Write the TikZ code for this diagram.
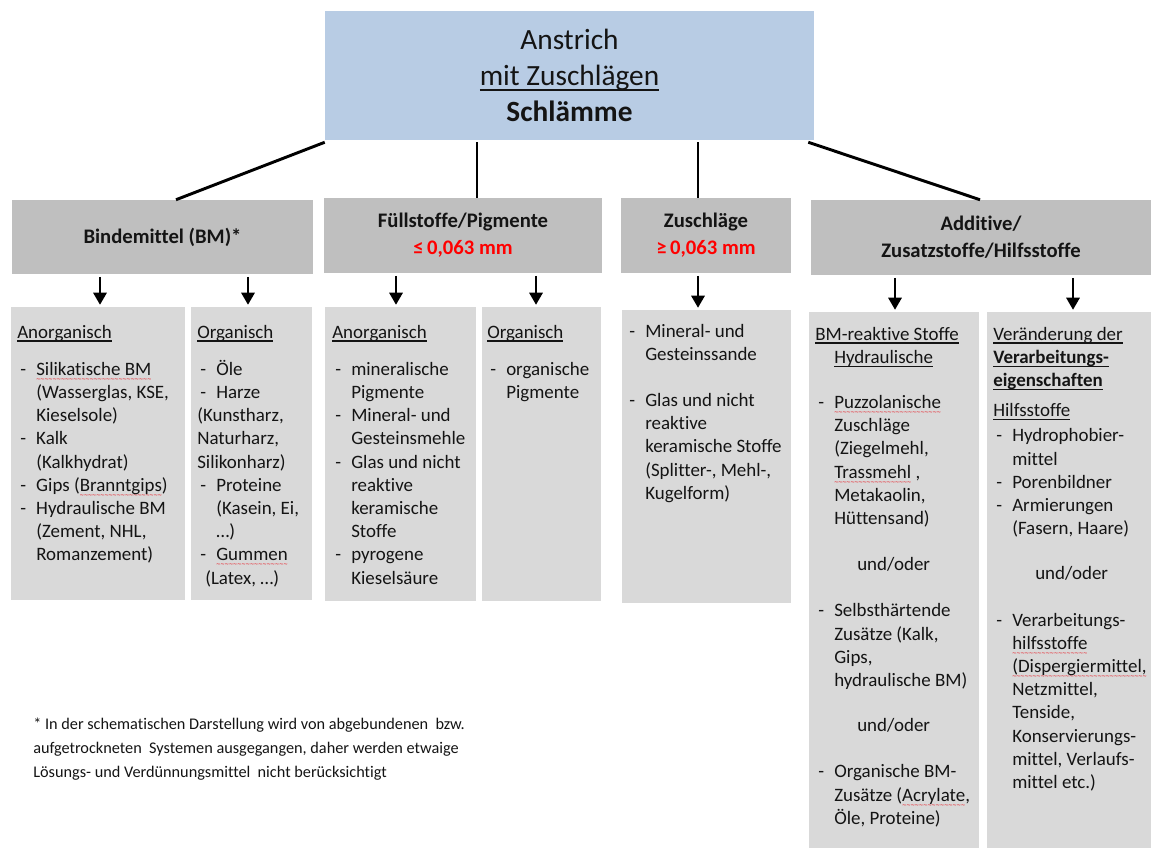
\documentclass[tikz,border=0pt]{standalone}
\usepackage{fontspec}
\setmainfont[Ligatures={NoCommon}]{Carlito}
\newfontfamily\wavefont{DejaVu Sans Mono}
\usetikzlibrary{arrows.meta,calc}
\definecolor{topblue}{HTML}{B8CCE4}
\definecolor{hgray}{HTML}{BFBFBF}
\definecolor{lgray}{HTML}{D9D9D9}
\definecolor{txt}{HTML}{141414}
\definecolor{wavered}{HTML}{E8202A}
\newdimen\px \px=0.75pt
\newcommand\itm[1]{\makebox[19\px][l]{\hspace*{3\px}-}#1}
\newcommand\cnt[1]{\hspace*{19\px}#1}
\newcommand\ul[1]{\setbox0\hbox{#1}\leavevmode\rlap{\rule[-0.2em]{\wd0}{0.07em}}\box0}
\newcommand\rw[1]{\setbox0\hbox{#1}\leavevmode\rlap{\raisebox{-4.6pt}[0pt][0pt]{\hbox to\wd0{\textcolor{wavered}{\wavefont\fontsize{5pt}{5pt}\selectfont\xleaders\hbox{\char"7E}\hfill}}}}\box0}
\tikzset{
  topbox/.style={fill=topblue, inner sep=0pt, align=center, text=txt,
    font=\fontsize{22pt}{27pt}\selectfont},
  headbox/.style={fill=hgray, inner sep=0pt, align=center, text=txt,
    font=\bfseries\fontsize{15.5pt}{20.25pt}\selectfont},
  lowbox/.style={fill=lgray, inner sep=0pt},
  body/.style={inner sep=0pt, anchor=base west, text=txt,
    font=\fontsize{14.2pt}{17.4pt}\selectfont},
  foot/.style={inner sep=0pt, anchor=base west, text=txt,
    font=\fontsize{12.2pt}{18.2pt}\selectfont},
  conn/.style={line width=2.2pt, draw=black},
  arr/.style={line width=1.5pt, draw=black, -{Triangle[width=10pt,length=9pt]},
    shorten <=2pt, shorten >=1.5pt},
}
\begin{document}
\begin{tikzpicture}[x=0.75pt, y=-0.75pt]
\useasboundingbox (0,0) rectangle (1151,848);

% top box
\node[topbox, minimum width=489\px, minimum height=129\px] (top) at (569.5,75.5)
  {Anstrich\\\ul{mit Zuschlägen}\\\textbf{Schlämme}};

% header boxes
\node[headbox, minimum width=301\px, minimum height=74\px] (H1) at (162.5,237) {Bindemittel (BM)*};
\node[headbox, minimum width=278\px, minimum height=75\px] (H2) at (463,235.5)
  {Füllstoffe/Pigmente\\\textcolor{red}{≤\,0,063 mm}};
\node[headbox, minimum width=170\px, minimum height=75\px] (H3) at (706,235.5)
  {Zuschläge\\\textcolor{red}{≥\,0,063 mm}};
\node[headbox, minimum width=340\px, minimum height=75\px] (H4) at (981,237.5)
  {Additive/\\Zusatzstoffe/Hilfsstoffe};

% lower boxes
\node[lowbox, minimum width=174\px, minimum height=293\px] (L1) at (98,453.5) {};
\node[lowbox, minimum width=121\px, minimum height=293\px] (L2) at (251.5,453.5) {};
\node[lowbox, minimum width=151\px, minimum height=294\px] (L3) at (400.5,454) {};
\node[lowbox, minimum width=119\px, minimum height=294\px] (L4) at (541.5,454) {};
\node[lowbox, minimum width=169\px, minimum height=293\px] (L5) at (706.5,456.5) {};
\node[lowbox, minimum width=170\px, minimum height=536\px] (L6) at (894,580) {};
\node[lowbox, minimum width=164\px, minimum height=536\px] (L7) at (1069,580) {};

% connectors from top box
\draw[conn] ($(top.south west)+(0,2)$) -- ($(H1.north)+(13.5,0)$);
\draw[conn] ($(H2.north |- top.south)+(14,2)$) -- ($(H2.north)+(14,0)$);
\draw[conn] ($(H3.north |- top.south)+(-8,2)$) -- ($(H3.north)+(-8,0)$);
\draw[conn] ($(top.south east)+(-6,2)$) -- ($(H4.north)+(-1,0)$);

% arrows
\foreach \h/\l/\x in {H1/L1/100, H1/L2/248, H2/L3/396, H2/L4/536, H3/L5/698, H4/L6/895, H4/L7/1073}{
  \coordinate (a\l) at (\x,0);
  \draw[arr] (\h.south -| a\l) -- (\l.north -| a\l);
}

% contents
\node[body] (t1) at (17,338) {\parbox[t]{170\px}{%
\ul{Anorganisch}\\[14\px]
\itm{\rw{Silikatische BM}}\\
\cnt{(Wasserglas, KSE,}\\
\cnt{Kieselsole)}\\
\itm{Kalk}\\
\cnt{(Kalkhydrat)}\\
\itm{Gips (\rw{Branntgips})}\\
\itm{Hydraulische BM}\\
\cnt{(Zement, NHL,}\\
\cnt{Romanzement)}}};

\node[body] (t2) at (197,338) {\parbox[t]{118\px}{%
\ul{Organisch}\\[14\px]
\itm{Öle}\\
\itm{Harze}\\
(Kunstharz,\\
Naturharz,\\
Silikonharz)\\
\itm{Proteine}\\
\cnt{(Kasein, Ei,}\\
\cnt{…)}\\
\itm{\rw{Gummen}}\\
\hspace*{8\px}(Latex, …)}};

\node[body] (t3) at (332,338) {\parbox[t]{148\px}{%
\ul{Anorganisch}\\[14\px]
\itm{mineralische}\\
\cnt{Pigmente}\\
\itm{Mineral- und}\\
\cnt{Gesteinsmehle}\\
\itm{Glas und nicht}\\
\cnt{reaktive}\\
\cnt{keramische}\\
\cnt{Stoffe}\\
\itm{pyrogene}\\
\cnt{Kieselsäure}}};

\node[body] (t4) at (487,338) {\parbox[t]{115\px}{%
\ul{Organisch}\\[14\px]
\itm{organische}\\
\cnt{Pigmente}}};

\node[body] (t5) at (626,337) {\parbox[t]{165\px}{%
\itm{Mineral- und}\\
\cnt{Gesteinssande}\\[23\px]
\itm{Glas und nicht}\\
\cnt{reaktive}\\
\cnt{keramische Stoffe}\\
\cnt{(Splitter-, Mehl-,}\\
\cnt{Kugelform)}}};

\node[body] (t6) at (815,340) {\parbox[t]{165\px}{%
\ul{BM-reaktive Stoffe}\\
\cnt{\ul{Hydraulische}}\\[22\px]
\itm{\rw{Puzzolanische}}\\
\cnt{Zuschläge}\\
\cnt{(Ziegelmehl,}\\
\cnt{\rw{Trassmehl}\ ,}\\
\cnt{Metakaolin,}\\
\cnt{Hüttensand)}\\[23\px]
\hspace*{42\px}und/oder\\[23\px]
\itm{Selbsthärtende}\\
\cnt{Zusätze (Kalk,}\\
\cnt{Gips,}\\
\cnt{hydraulische BM)}\\[22\px]
\hspace*{42\px}und/oder\\[23\px]
\itm{Organische BM-}\\
\cnt{Zusätze (\rw{Acrylate},}\\
\cnt{Öle, Proteine)}}};

\node[body] (t7) at (993,340) {\parbox[t]{160\px}{%
\ul{Veränderung der}\\
\textbf{\ul{Verarbeitungs-}}\\
\textbf{\ul{eigenschaften}}\\[7\px]
\ul{Hilfsstoffe}\\[2\px]
\itm{Hydrophobier-}\\
\cnt{mittel}\\
\itm{Porenbildner}\\
\itm{Armierungen}\\
\cnt{(Fasern, Haare)}\\[22\px]
\hspace*{42\px}und/oder\\[23\px]
\itm{Verarbeitungs-}\\
\cnt{\rw{hilfsstoffe}}\\
\cnt{\rw{(Dispergiermittel,}}\\
\cnt{Netzmittel,}\\
\cnt{Tenside,}\\
\cnt{Konservierungs-}\\
\cnt{mittel, Verlaufs-}\\
\cnt{mittel etc.)}}};

% footnote
\node[foot] (fn) at (33,729) {\parbox[t]{520\px}{%
* In der schematischen Darstellung wird von abgebundenen\ \ bzw.\\
aufgetrockneten\ \ Systemen ausgegangen, daher werden etwaige\\
Lösungs- und Verdünnungsmittel\ \ nicht berücksichtigt}};
\end{tikzpicture}
\end{document}
